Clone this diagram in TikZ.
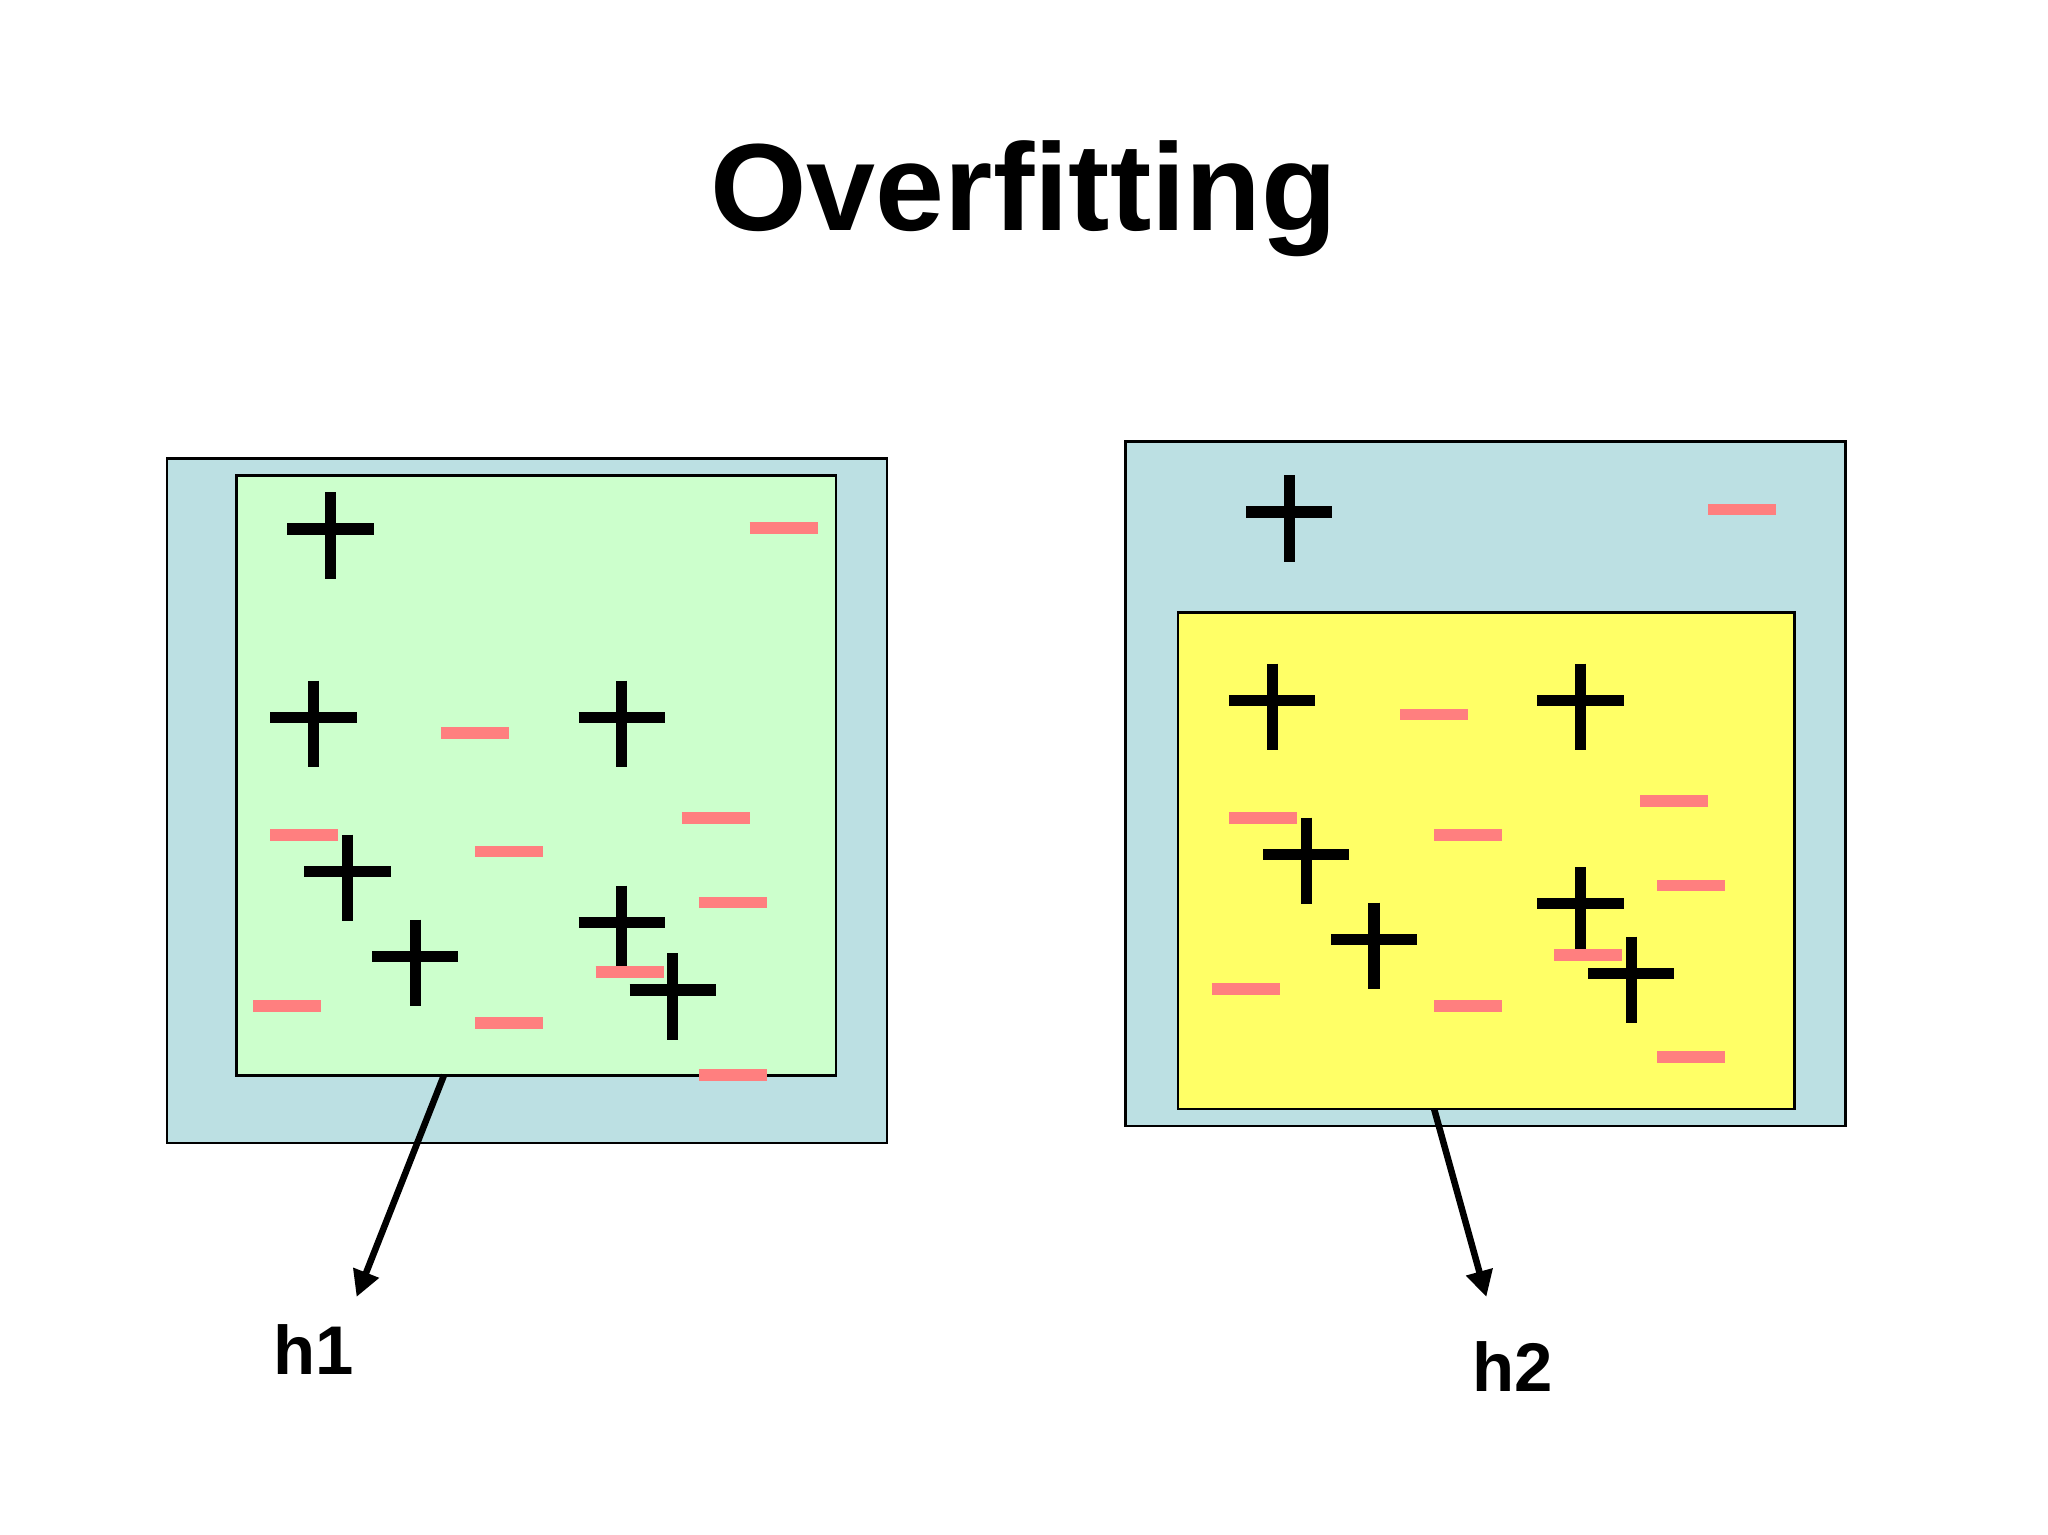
\documentclass[tikz,border=0pt]{standalone}
\usepackage{fontspec}
\setmainfont{Liberation Sans}
\usetikzlibrary{arrows.meta}
\definecolor{outerblue}{HTML}{BCE0E3}
\definecolor{innergreen}{HTML}{CCFFCC}
\definecolor{inneryellow}{HTML}{FFFF66}
\definecolor{minuscol}{HTML}{FF7F7F}
\tikzset{
  box/.style={draw=black, line width=0.6pt},
  plusline/.style={line width=0.085cm, black},
  minusline/.style={line width=0.09cm, minuscol},
  arr/.style={line width=0.05cm, -{Triangle[length=0.2cm,width=0.2cm]}},
  lbl/.style={font=\bfseries\fontsize{15}{18}\selectfont},
}
\begin{document}
\begin{tikzpicture}[x=0.01cm,y=-0.01cm]
\useasboundingbox (0,0) rectangle (1568,1175);
\node[font=\bfseries\fontsize{27}{32}\selectfont] (title) at (784,152) {Overfitting};
% left
\node[box, fill=outerblue, minimum width=5.51cm, minimum height=5.24cm, inner sep=0pt] (lo) at (403.5,613) {};
\node[box, fill=innergreen, minimum width=4.59cm, minimum height=4.59cm, inner sep=0pt] (li) at (410.5,593.5) {};
% right
\node[box, fill=outerblue, minimum width=5.51cm, minimum height=5.24cm, inner sep=0pt] (ro) at (1137.5,600) {};
\node[box, fill=inneryellow, minimum width=4.72cm, minimum height=3.80cm, inner sep=0pt] (ri) at (1138,659) {};
% pluses
\foreach \x/\y in {253/410,240/554,476/554,266/672,318/737,476/711,515/763,
                   987/397,974/541,1210/541,1000/659,1052/724,1210/697,1249/750}{
  \draw[plusline] (\x-33,\y-5) -- (\x+33,\y-5);
  \draw[plusline] (\x,\y-33) -- (\x,\y+33);
}
% minuses
\foreach \x/\y in {600/404,364/561,233/639,390/652,548/626,561/691,482/744,220/770,390/783,561/823,
                   1334/390,1098/547,967/626,1124/639,1282/613,1295/678,1216/731,954/757,1124/770,1295/809}{
  \draw[minusline] (\x-26,\y) -- (\x+26,\y);
}
% labels and arrows
\node[lbl] (h1) at (240,1033) {h1};
\node[lbl] (h2) at (1158,1046) {h2};
\coordinate (a1) at (340,823);
\coordinate (a2) at (1098,849);
\coordinate (e1) at (273,993);
\coordinate (e2) at (1138,993);
\draw[arr] (a1) -- (e1);
\draw[arr] (a2) -- (e2);
\end{tikzpicture}
\end{document}
